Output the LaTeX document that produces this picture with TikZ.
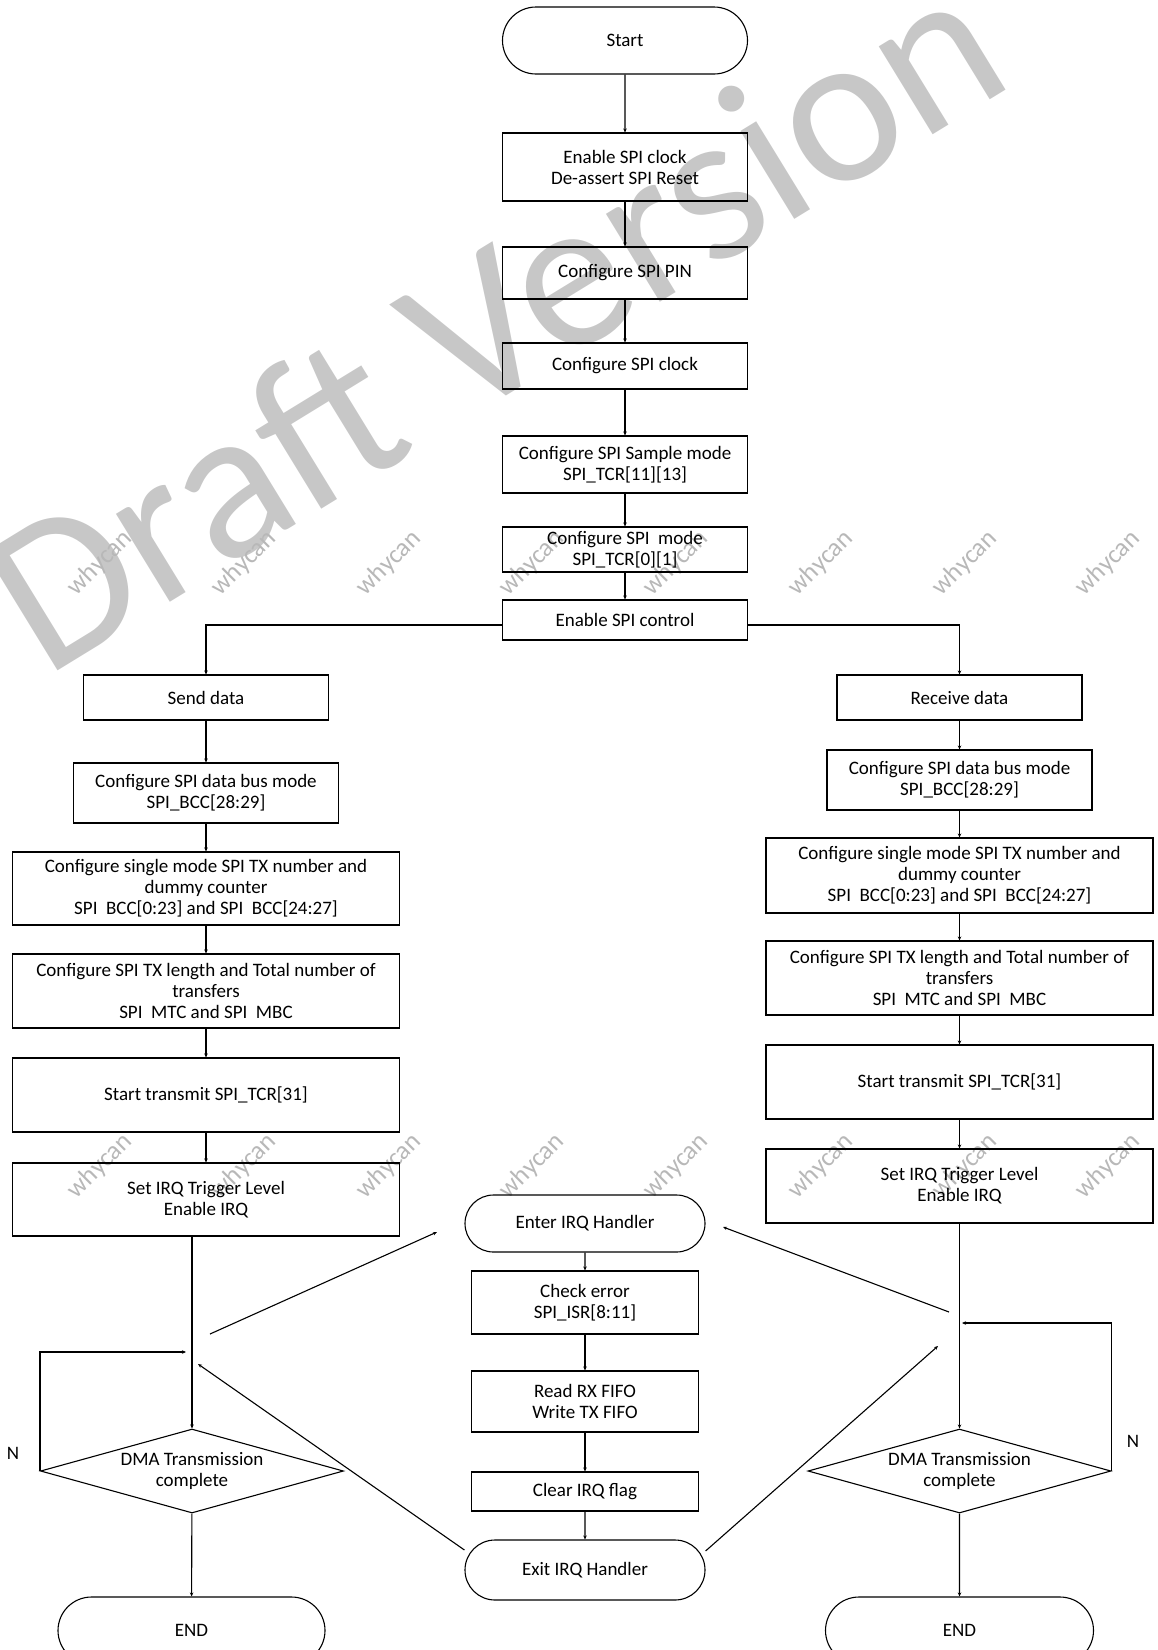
\documentclass[tikz,border=0pt]{standalone}
\usepackage{fontspec}
\setmainfont{Carlito}
\usepackage{tikz}
\usetikzlibrary{shapes.geometric, shapes.misc, arrows.meta}
\tikzset{
  flowstep/.style={rectangle, draw, line width=1.1pt, minimum width=245pt,
                   inner sep=0pt, align=center,
                   font=\fontsize{19}{21}\selectfont},
  flowwide/.style={flowstep, minimum width=387pt},
  flowterm/.style={rounded rectangle, draw, line width=1.1pt,
                   minimum width=245pt, inner sep=0pt,
                   font=\fontsize{19}{21}\selectfont},
  flowtest/.style={diamond, draw, line width=1.1pt, aspect=3.6,
                   minimum width=303pt, minimum height=84pt, inner sep=0pt,
                   align=center, font=\fontsize{19}{21}\selectfont},
  flowlink/.style={draw, line width=1.1pt, -{Stealth[length=4pt, width=3.5pt]}},
  flownote/.style={font=\fontsize{19}{21}\selectfont},
  draftmark/.style={text=black!22, rotate=31.5,
                    font=\fontsize{216}{216}\selectfont},
  sitemark/.style={text=black!28, rotate=45,
                   font=\fontsize{26}{26}\selectfont}
}

\begin{document}
\begin{tikzpicture}[
    x=1pt, y=-1pt
]
  \useasboundingbox (0,0) rectangle (1158,1650);
  % watermarks first, so the chart lies on top of them
  \node[draftmark] (draft) at (493,318) {Draft Version};
  \foreach \col in {100,244,389,532,676,821,965,1108} {
    \node[sitemark] (whytop\col) at (\col,563) {whycan};
    \node[sitemark] (whylow\col) at (\col,1166) {whycan};
  }

  \node[flowterm, minimum height=67pt] (start) at (625,40.5) {Start};
  \node[flowstep, minimum height=68pt] (clken) at (625,167)
    {Enable SPI clock\\De-assert SPI Reset};
  \node[flowstep, minimum height=52pt] (pin) at (625,273) {Configure SPI PIN};
  \node[flowstep, minimum height=46pt] (clk) at (625,366) {Configure SPI clock};
  \node[flowstep, minimum height=57pt] (sample) at (625,464.5)
    {Configure SPI Sample mode\\SPI\_TCR[11][13]};
  \node[flowstep, minimum height=45pt] (mode) at (625,549.5)
    {Configure SPI\ \ mode\\SPI\_TCR[0][1]};
  \node[flowstep, minimum height=40pt] (ctl) at (625,620) {Enable SPI control};

  \node[flowstep, minimum height=45pt] (send) at (206,697.5) {Send data};
  \node[flowstep, minimum width=265pt, minimum height=60pt] (lbus) at (206,793)
    {Configure SPI data bus mode\\SPI\_BCC[28:29]};
  \node[flowwide, minimum height=73pt] (lcount) at (206,888.5)
    {Configure single mode SPI TX number and\\dummy counter\\SPI\ \ BCC[0:23] and SPI\ \ BCC[24:27]};
  \node[flowwide, minimum height=74pt] (llen) at (206,991)
    {Configure SPI TX length and Total number of\\transfers\\SPI\ \ MTC and SPI\ \ MBC};
  \node[flowwide, minimum height=74pt] (lgo) at (206,1095) {Start transmit SPI\_TCR[31]};
  \node[flowwide, minimum height=73pt] (lirq) at (206,1199.5)
    {Set IRQ Trigger Level\\Enable IRQ};
  \node[flowtest] (ldma) at (192,1471) {DMA Transmission\\complete};
  \node[flowterm, minimum width=267pt, minimum height=67pt] (lend) at (191.5,1630.5) {END};

  \node[flowstep, minimum height=45pt] (recv) at (959.5,697.5) {Receive data};
  \node[flowstep, minimum width=265pt, minimum height=60pt] (rbus) at (959.5,780)
    {Configure SPI data bus mode\\SPI\_BCC[28:29]};
  \node[flowwide, minimum height=75pt] (rcount) at (959.5,875.5)
    {Configure single mode SPI TX number and\\dummy counter\\SPI\ \ BCC[0:23] and SPI\ \ BCC[24:27]};
  \node[flowwide, minimum height=74pt] (rlen) at (959.5,978)
    {Configure SPI TX length and Total number of\\transfers\\SPI\ \ MTC and SPI\ \ MBC};
  \node[flowwide, minimum height=74pt] (rgo) at (959.5,1082) {Start transmit SPI\_TCR[31]};
  \node[flowwide, minimum height=74pt] (rirq) at (959.5,1186)
    {Set IRQ Trigger Level\\Enable IRQ};
  \node[flowtest] (rdma) at (959.5,1471) {DMA Transmission\\complete};
  \node[flowterm, minimum width=268pt, minimum height=67pt] (rend) at (959.5,1630.5) {END};

  \node[flowterm, minimum width=240pt, minimum height=57pt] (enter) at (585,1223.5)
    {Enter IRQ Handler};
  \node[flowstep, minimum width=227pt, minimum height=63pt] (check) at (585,1302.5)
    {Check error\\SPI\_ISR[8:11]};
  \node[flowstep, minimum width=227pt, minimum height=61pt] (fifo) at (585,1401.5)
    {Read RX FIFO\\Write TX FIFO};
  \node[flowstep, minimum width=227pt, minimum height=39pt] (clear) at (585,1491.5)
    {Clear IRQ flag};
  \node[flowterm, minimum width=240pt, minimum height=60pt] (exit) at (585,1570)
    {Exit IRQ Handler};

  \node[flownote] (lno) at (13,1453) {N};
  \node[flownote] (rno) at (1133,1441) {N};

  \coordinate (ljoin) at (186,1352);
  \coordinate (ltap) at (210,1334);
  \coordinate (lback) at (198,1364);
  \coordinate (enterl) at (437,1232);
  \coordinate (rjoin) at (962,1323);
  \coordinate (rtap) at (949,1312);
  \coordinate (rback) at (938,1346);
  \coordinate (enterr) at (723,1227);

  \foreach \a/\b in {start/clken, clken/pin, pin/clk, clk/sample, sample/mode,
                     mode/ctl, send/lbus, lbus/lcount, lcount/llen, llen/lgo,
                     lgo/lirq, recv/rbus, rbus/rcount, rcount/rlen, rlen/rgo,
                     rgo/rirq, rirq/rdma, enter/check, check/fifo, fifo/clear,
                     clear/exit, ldma/lend, rdma/rend} {
    \draw[flowlink] (\a) -- (\b);
  }
  \draw[flowlink] ([yshift=-5pt]ctl.west) -| (send);
  \draw[flowlink] ([yshift=-5pt]ctl.east) -| (recv);
  \draw[flowlink] (lirq.south -| ldma.north) -- (ldma.north);
  \draw[flowlink] (ldma.west) |- (ljoin);
  \draw[flowlink] (rdma.east) |- (rjoin);
  \draw[flowlink] (ltap) -- (enterl);
  \draw[flowlink] (rtap) -- (enterr);
  \draw[flowlink] ([yshift=20pt]exit.west) -- (lback);
  \draw[flowlink] ([yshift=19pt]exit.east) -- (rback);
\end{tikzpicture}
\end{document}
